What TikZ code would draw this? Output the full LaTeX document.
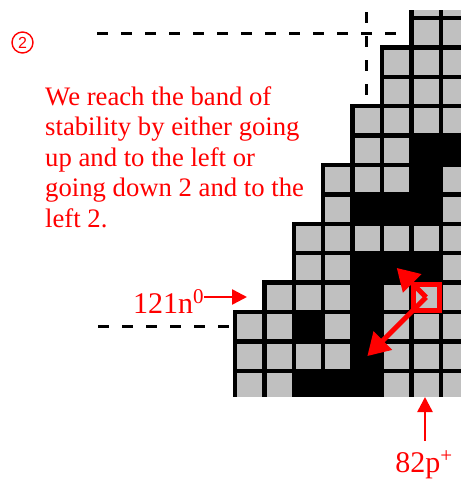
\documentclass[tikz,border=0pt]{standalone}
\usepackage{fontspec}
\setmainfont{Liberation Serif}
\newfontfamily\circfont{Liberation Sans}
\usepackage{tikz}
\usetikzlibrary{arrows.meta,calc}
\definecolor{cellgray}{RGB}{192,192,192}

\begin{document}
\begin{tikzpicture}[x=1pt, y=-1pt,
    cell/.style={draw=black, line width=4.5pt, fill=cellgray},
    guide/.style={line width=3pt, dash pattern=on 11pt off 13pt},
    bigarrow/.style={red, line width=5pt, -{Triangle[length=22pt,width=25pt]}},
    smallarrow/.style={red, line width=2.5pt, -{Triangle[length=15pt,width=15pt]}},
    tag/.style={red, inner sep=0pt, font=\fontsize{30}{30}\selectfont}]
\useasboundingbox (0,0) rectangle (461,480);

\begin{scope}
\clip (0,10) rectangle (461,396);
\foreach \r/\s in {0/6,1/6,2/5,3/5,4/4,5/4,6/3,7/3,8/2,9/2,10/1,11/0,12/0,13/0}
  \foreach \c in {\s,...,7} {
    \draw[cell] ({235+29.4*\c},{29.4*\r-11.4}) rectangle ++(29.4,29.4);
    \coordinate (k\c-\r) at ({249.7+29.4*\c},{29.4*\r+3.3});
  }
\foreach \c/\r in {6/5,7/5,6/6,4/7,5/7,6/7,4/9,5/9,6/9,4/10,2/11,4/11,4/12,2/13,3/13,4/13}
  \draw[cell, fill=black] ({235+29.4*\c},{29.4*\r-11.4}) rectangle ++(29.4,29.4);
\end{scope}

\coordinate (topL) at (97,33);
\coordinate (topR) at (409,33);
\coordinate (vertT) at (366,12);
\coordinate (vertB) at (366,103);
\coordinate (lowL) at (98,326);
\coordinate (lowR) at (233,326);
\draw[guide] (topL) -- (topR);
\draw[guide] (vertT) -- (vertB);
\draw[guide] (lowL) -- (lowR);

\node[red, draw=red, circle, line width=1.4pt, minimum size=21pt, inner sep=0pt,
      font=\circfont\fontsize{16}{16}\selectfont] (num) at (22.5,42.5) {2};
\node[red, anchor=north west, inner sep=0pt, align=left,
      font=\fontsize{26.7}{30.6}\selectfont] (note) at (45,86)
      {We reach the band of\\stability by either going\\up and to the left or\\going down 2 and to the\\left 2.};

\node[draw=red, line width=5pt, minimum size=26pt, inner sep=0pt] (sq) at (k6-10) {};
\draw[bigarrow] (sq.center) -- (k5-9);
\draw[bigarrow] (sq.center) -- (k4-12);

\node[tag, anchor=base west] (nlab) at (133,313) {121n\textsuperscript{0}};
\coordinate (ntip) at (247,297);
\draw[smallarrow] (nlab.east |- ntip) -- (ntip);

\node[tag, anchor=base] (plab) at (424,472) {82p\textsuperscript{+}};
\coordinate (ptip) at (425,397);
\draw[smallarrow] (ptip |- plab.north) ++(0,-10) -- (ptip);
\end{tikzpicture}
\end{document}
